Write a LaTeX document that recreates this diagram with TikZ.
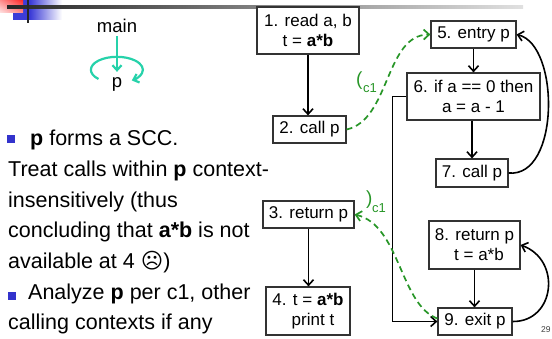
\documentclass[tikz,border=0pt]{standalone}
\usepackage{fontspec}
\setmainfont{Liberation Sans}
\newfontfamily\symfont{DejaVu Sans}
\usetikzlibrary{arrows.meta,shadings}
\definecolor{teal1}{RGB}{38,210,170}
\definecolor{grn}{RGB}{40,150,40}
\definecolor{bulblue}{RGB}{51,51,204}
\definecolor{decoblue}{RGB}{60,60,215}
\begin{document}
\begin{tikzpicture}[x=1pt,y=1pt,
  box/.style={draw=black!80, line width=1.2pt, fill=white, inner sep=0pt, align=center, font=\fontsize{17}{20}\selectfont},
  flow/.style={line width=1.6pt, -{Straight Barb[length=5.5pt,width=10pt]}},
  ctx/.style={grn, dash pattern=on 6pt off 4pt, line width=1.7pt, -{Straight Barb[length=5.5pt,width=10pt]}},
  body/.style={anchor=base west, inner sep=0pt, font=\fontsize{21.5}{24}\selectfont},
  lbl/.style={grn, anchor=base west, inner sep=0pt},
  loopc/.style={teal1, line width=2.2pt, -{Straight Barb[length=5pt,width=9pt]}},
]
\useasboundingbox (0,0) rectangle (552,-339);
% corner decoration
\fill[decoblue] (13,0) rectangle (30,-20);
\shade[left color=decoblue, right color=white] (30,0) rectangle (62,-20);
\shade[upper left=red!45, upper right=red!85, lower left=red!10, lower right=red!45] (0,0) rectangle (23,-13);
\shade[left color=black!85, right color=black!12] (7,-6) rectangle (523,-8.5);
\draw[line width=2pt, black!85] (28,0) -- (28,-23);

% call graph
\node[anchor=base, inner sep=0pt, font=\fontsize{18.5}{20}\selectfont] (main) at (117,-33) {main};
\node[anchor=base, inner sep=0pt, font=\fontsize{18.5}{20}\selectfont] (p) at (117,-88) {p};
\draw[loopc] ([yshift=-3pt]main.south) -- ([yshift=6pt]p.north);
\draw[loopc] (98.5,-79) arc[start angle=225, end angle=-55, x radius=26, y radius=13];

% text
\fill[bulblue] (7,-135) rectangle (15,-143);
\fill[bulblue] (8,-292) rectangle (16,-300);
\node[body] (l1) at (30,-146) {\textbf{p} forms a SCC.};
\node[body] (l2) at (8,-177) {Treat calls within \textbf{p} context-};
\node[body] (l3) at (8,-207.5) {insensitively (thus};
\node[body] (l4) at (8,-238) {concluding that \textbf{a*b} is not};
\node[body] (l5) at (8,-269) {available at 4 {\symfont ☹})};
\node[body] (l6) at (28,-300) {Analyze \textbf{p} per c1, other};
\node[body] (l7) at (8,-330) {calling contexts if any};

% boxes
\node[box, minimum width=102pt, minimum height=47pt] (n1) at (308,-30.5) {1. read a, b\\t = \textbf{a*b}};
\node[box, minimum width=73pt, minimum height=27pt] (n2) at (309.5,-129.5) {2. call p};
\node[box, minimum width=91pt, minimum height=27pt] (n3) at (308.5,-214.5) {3. return p};
\node[box, minimum width=84pt, minimum height=48pt] (n4) at (308,-311) {4. t = \textbf{a*b}\\\hspace*{10pt}print t};
\node[box, minimum width=85pt, minimum height=27pt] (n5) at (473.5,-34.5) {5. entry p};
\node[box, minimum width=133pt, minimum height=47pt] (n6) at (473.5,-96.5) {6. if a == 0 then\\a = a - 1};
\node[box, minimum width=72pt, minimum height=28pt] (n7) at (472,-173) {7. call p};
\node[box, minimum width=91pt, minimum height=48pt] (n8) at (474.5,-245) {8. return p\\\hspace*{9pt}t = a*b};
\node[box, minimum width=74pt, minimum height=27pt] (n9) at (475,-321.5) {9. exit p};

% flow edges
\draw[flow] (n1.south -| n1) -- (n1.south |- n2.north);
\draw[flow] (n3.south) -- (n3.south |- n4.north);
\draw[flow] (n5.south) -- (n5.south |- n6.north);
\draw[flow] (n7.north |- n6.south) -- (n7.north);
\draw[flow] (n8.south) -- (n8.south |- n9.north);
\draw[flow] (n6.west) -- ++(-14,0) |- (n9.west);
\draw[flow] (n7.east) .. controls (560,-178) and (560,-45) .. (n5.east);
\draw[flow] (n9.east) .. controls (555,-322) and (562,-260) .. (n8.east);

% context edges
\draw[ctx] (n2.east) .. controls (390,-120) and (385,-35) .. (n5.west);
\draw[ctx] ([yshift=3pt]n9.west) .. controls (400,-305) and (400,-225) .. (n3.east);
\node[lbl, font=\fontsize{19}{19}\selectfont] (lp) at (356,-86) {(};
\node[lbl, font=\fontsize{13}{13}\selectfont] (lc) at (363,-93) {c1};
\node[lbl, font=\fontsize{19}{19}\selectfont] (rp) at (366,-205) {)};
\node[lbl, font=\fontsize{13}{13}\selectfont] (rc) at (372,-213) {c1};

\node[anchor=base west, inner sep=0pt, font=\fontsize{8.5}{9}\selectfont, black!75] (pg) at (541,-333) {29};
\end{tikzpicture}
\end{document}
